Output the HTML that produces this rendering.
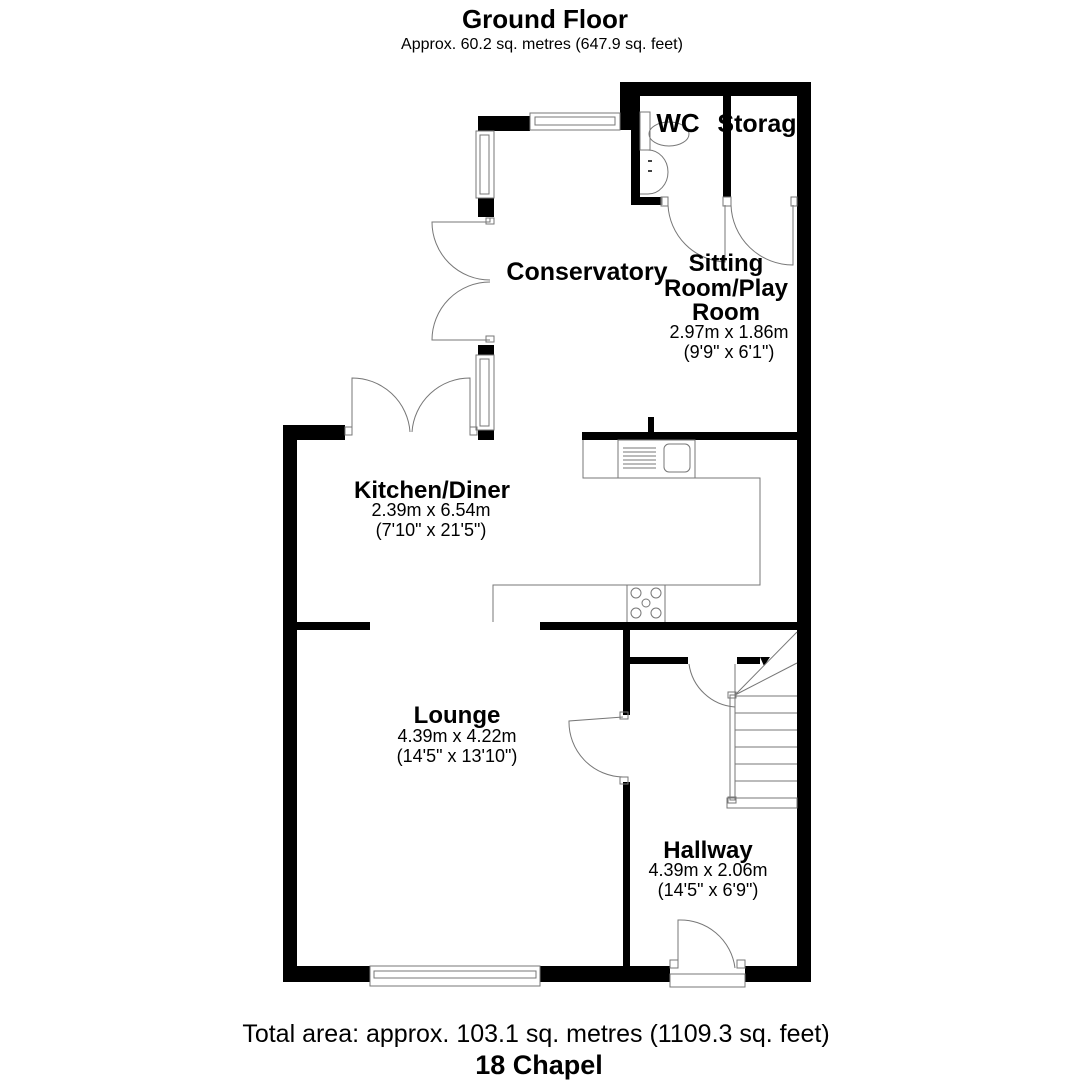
<!DOCTYPE html>
<html><head><style>
html,body{margin:0;padding:0;background:#fff;}
svg{display:block;}
text{font-family:"Liberation Sans",Arial,sans-serif;fill:#000;}
.b{font-weight:bold;}
</style></head><body>
<svg width="1080" height="1080" viewBox="0 0 1080 1080">
<text x="545" y="28" text-anchor="middle" class="b" font-size="26">Ground Floor</text>
<text x="542" y="49" text-anchor="middle" font-size="16">Approx. 60.2 sq. metres (647.9 sq. feet)</text>
<text x="536" y="1042" text-anchor="middle" font-size="25">Total area: approx. 103.1 sq. metres (1109.3 sq. feet)</text>
<text x="539" y="1074" text-anchor="middle" class="b" font-size="27">18 Chapel</text>

<g fill="#000">
<rect x="623" y="82" width="188" height="14"/>
<rect x="620" y="82" width="18" height="48"/>
<rect x="631" y="82" width="9" height="123"/>
<rect x="631" y="197" width="30" height="8"/>
<rect x="723" y="82" width="8" height="115"/>
<rect x="797" y="82" width="14" height="900"/>
<rect x="478" y="116" width="52" height="15"/>
<rect x="478" y="198" width="16" height="19"/>
<rect x="478" y="345" width="16" height="10"/>
<rect x="478" y="430" width="16" height="10"/>
<rect x="582" y="432" width="215" height="8"/>
<rect x="648" y="417" width="6" height="15"/>
<rect x="283" y="425" width="14" height="557"/>
<rect x="283" y="425" width="62" height="15"/>
<rect x="297" y="622" width="73" height="8"/>
<rect x="540" y="622" width="257" height="8"/>
<rect x="623" y="630" width="7" height="85"/>
<rect x="623" y="782" width="7" height="186"/>
<rect x="630" y="657" width="58" height="7"/>
<rect x="737" y="657" width="23" height="7"/>
<polygon points="760,657 770,657 764,666"/>
<rect x="283" y="966" width="87" height="16"/>
<rect x="540" y="966" width="130" height="16"/>
<rect x="745" y="966" width="66" height="16"/>
</g>

<g fill="none" stroke="#777" stroke-width="1">
<rect x="530" y="113" width="90" height="17"/>
<rect x="535" y="117" width="80" height="8"/>
<rect x="476" y="131" width="18" height="67"/>
<rect x="480" y="135" width="9" height="59"/>
<rect x="476" y="355" width="18" height="75"/>
<rect x="480" y="359" width="9" height="67"/>
<rect x="370" y="966" width="170" height="20"/>
<rect x="374" y="971" width="162" height="7"/>
<path d="M490 218 L490 222 L432 222 A58 58 0 0 0 490 280"/>
<path d="M490 340 L432 340 A58 58 0 0 1 490 282"/>
<rect x="486" y="218" width="8" height="6"/>
<rect x="486" y="336" width="8" height="6"/>
<path d="M352 432 L352 378 A58 58 0 0 1 410 432"/>
<path d="M470 432 L470 378 A58 58 0 0 0 412 432"/>
<rect x="345" y="427" width="7" height="8"/>
<rect x="470" y="427" width="7" height="8"/>
<path d="M662 197 L662 205 M668 205 A60 60 0 0 0 725 262 L725 205"/>
<rect x="661" y="197" width="7" height="9"/>
<rect x="723" y="197" width="8" height="9"/>
<path d="M731 205 A62 62 0 0 0 793 265 L793 205"/>
<rect x="791" y="197" width="6" height="9"/>
<rect x="640" y="112" width="10" height="38"/>
<ellipse cx="669" cy="134" rx="20" ry="12"/>
<path d="M640 150 L648 150 A20 22 0 0 1 648 194 L640 194"/>
<path d="M583 440 L583 478 L760 478 L760 585 L493 585 L493 622"/>
<rect x="618" y="440" width="77" height="38"/>
<rect x="664" y="444" width="26" height="28" rx="5"/>
<path d="M623 448h33M623 452h33M623 456h33M623 460h33M623 464h33M623 468h33"/>
<path d="M627 585 L627 622 M665 585 L665 622"/>
<circle cx="636" cy="593" r="5"/><circle cx="656" cy="593" r="5"/>
<circle cx="646" cy="603" r="4"/>
<circle cx="636" cy="613" r="5"/><circle cx="656" cy="613" r="5"/>
<path d="M623 717 L569 721 A55 55 0 0 0 623 777"/>
<rect x="620" y="712" width="8" height="7"/>
<rect x="620" y="777" width="8" height="7"/>
<path d="M689 664 A50 50 0 0 0 735 707"/>
<rect x="730" y="695" width="5" height="105"/>
<rect x="728" y="692" width="8" height="6"/>
<rect x="728" y="797" width="8" height="6"/>
<path d="M735 664 L735 695 L797 632 M735 695 L797 663"/>
<path d="M735 696h62M735 713h62M735 730h62M735 747h62M735 764h62M735 781h62M735 798h62"/>
<rect x="727" y="798" width="70" height="10"/>
<path d="M678 968 L678 920 A55 55 0 0 1 735 968"/>
<rect x="670" y="960" width="8" height="8"/>
<rect x="737" y="960" width="8" height="8"/>
<rect x="670" y="974" width="75" height="13"/>
</g>
<g fill="#444"><rect x="648" y="160" width="4" height="2"/><rect x="648" y="170" width="4" height="2"/></g>

<text x="587" y="280" text-anchor="middle" class="b" font-size="25">Conservatory</text>
<text x="678" y="132" text-anchor="middle" class="b" font-size="26">WC</text>
<text x="757" y="132" text-anchor="middle" class="b" font-size="25">Storag</text>
<text x="726" y="271" text-anchor="middle" class="b" font-size="24">Sitting</text>
<text x="726" y="296" text-anchor="middle" class="b" font-size="24">Room/Play</text>
<text x="726" y="320" text-anchor="middle" class="b" font-size="24">Room</text>
<text x="729" y="338" text-anchor="middle" font-size="18">2.97m x 1.86m</text>
<text x="729" y="358" text-anchor="middle" font-size="18">(9'9" x 6'1")</text>
<text x="432" y="498" text-anchor="middle" class="b" font-size="24">Kitchen/Diner</text>
<text x="431" y="516" text-anchor="middle" font-size="18">2.39m x 6.54m</text>
<text x="431" y="536" text-anchor="middle" font-size="18">(7'10" x 21'5")</text>
<text x="457" y="723" text-anchor="middle" class="b" font-size="24">Lounge</text>
<text x="457" y="742" text-anchor="middle" font-size="18">4.39m x 4.22m</text>
<text x="457" y="762" text-anchor="middle" font-size="18">(14'5" x 13'10")</text>
<text x="708" y="858" text-anchor="middle" class="b" font-size="24">Hallway</text>
<text x="708" y="876" text-anchor="middle" font-size="18">4.39m x 2.06m</text>
<text x="708" y="896" text-anchor="middle" font-size="18">(14'5" x 6'9")</text>
</svg>
</body></html>
